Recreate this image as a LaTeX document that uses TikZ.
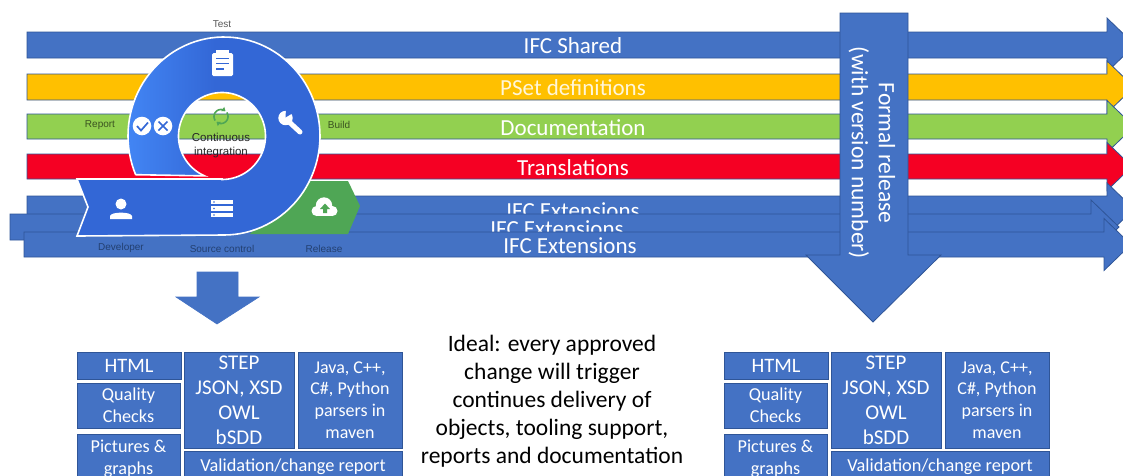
\documentclass[tikz,border=0pt]{standalone}
\usepackage{fontspec}
\setmainfont{Carlito}
\newfontfamily\uifont{Liberation Sans}
\usetikzlibrary{arrows.meta}
\definecolor{ppblue}{HTML}{4472C4}
\definecolor{ppedge}{HTML}{2F5597}
\definecolor{ppyellow}{HTML}{FFC000}
\definecolor{ppgreen}{HTML}{92D050}
\definecolor{ppred}{HTML}{F50023}
\definecolor{gblue}{HTML}{4285F4}
\definecolor{gdark}{HTML}{3367D6}
\definecolor{grelease}{HTML}{4FA655}
\newcommand{\flowbar}[6]{% x0, ytop, ybottom, headx, half head, colour
  \draw[barline, fill=#6] (#1,#2) -- (#4,#2) -- (#4,{(#2+#3)/2-#5}) -- ({#4+#5+1},{(#2+#3)/2}) -- (#4,{(#2+#3)/2+#5}) -- (#4,#3) -- (#1,#3) -- cycle;}
\newcommand{\boxgroup}[2]{% x shift, name prefix
  \begin{scope}[xshift=#1pt]
  \node[outbox, minimum width=104pt, minimum height=27pt] (#2html) at (129,365.5) {HTML};
  \node[outbox, minimum width=103pt, minimum height=45pt, font=\fontsize{18.2}{22}\selectfont] (#2qual) at (128.5,405.5) {Quality\\Checks};
  \node[outbox, minimum width=103pt, minimum height=48pt, font=\fontsize{18.2}{22}\selectfont, anchor=north] (#2pict) at (128.5,434) {Pictures \&\\graphs};
  \node[outbox, minimum width=110pt, minimum height=96pt, font=\fontsize{21}{25}\selectfont] (#2step) at (239,400) {STEP\\JSON, XSD\\OWL\\bSDD};
  \node[outbox, minimum width=104pt, minimum height=96pt, font=\fontsize{18}{21.8}\selectfont] (#2java) at (350,400) {Java, C++,\\C\#, Python\\parsers in\\maven};
  \node[outbox, minimum width=218pt, minimum height=30pt, font=\fontsize{18.3}{22}\selectfont, anchor=north] (#2val) at (293,451) {\raisebox{3pt}{Validation/change report}};
  \end{scope}}
\tikzset{
  barline/.style={draw=ppedge, line width=.8pt},
  bartext/.style={text=white, font=\fontsize{23}{26}\selectfont, inner sep=0pt},
  outbox/.style={draw=ppedge, line width=.6pt, fill=ppblue, text=white, align=center, inner sep=0pt, font=\fontsize{20.5}{24}\selectfont},
  uilabel/.style={inner sep=0pt, font=\uifont\fontsize{10}{12}\selectfont},
  ribbonedge/.style={draw=white, line width=1.6pt, line join=miter},
  icon/.style={fill=white, draw=none},
}
\begin{document}
\begin{tikzpicture}[x=1pt,y=-1pt]
\useasboundingbox (0,0) rectangle (1123,475);
\clip (0,0) rectangle (1123,475);
\fill[white] (0,0) rectangle (1123,475);
% flow bars
\flowbar{27}{32}{58}{1107}{27}{ppblue}
\node[bartext] (shared) at (573,45.5) {IFC Shared};
\flowbar{27}{74}{100}{1107}{26}{ppyellow}
\node[bartext, text=white!85!ppyellow] (pset) at (573,87.5) {PSet definitions};
\flowbar{27}{114}{139}{1107}{26}{ppgreen}
\node[bartext] (doc) at (573,127.5) {Documentation};
\flowbar{27}{154}{179}{1107}{24}{ppred}
\node[bartext] (trans) at (573,167.5) {Translations};
\flowbar{27}{196}{222}{1107}{26}{ppblue}
\node[bartext] (extA) at (573,210.5) {IFC Extensions};
\flowbar{10}{214}{240}{1091}{27}{ppblue}
\node[bartext] (extB) at (557,228.5) {IFC Extensions};
\flowbar{24}{232}{257}{1104}{26}{ppblue}
\node[bartext] (extC) at (570,245.5) {IFC Extensions};
% formal release arrow
\draw[barline, fill=ppblue] (840,13) -- (908,13) -- (908,255) -- (941,255) -- (873,322) -- (806,255) -- (840,255) -- cycle;
\node[text=white, align=center, rotate=-90, inner sep=0pt, font=\fontsize{23.5}{27}\selectfont] (formal) at (872,153) {Formal release\\(with version number)};
% small arrow
\draw[draw=ppblue, line width=.6pt, fill=ppblue] (197,272) -- (238,272) -- (238,297) -- (259,297) -- (217,324) -- (176,297) -- (197,297) -- cycle;
% release tag
\fill[grelease] (300,181) -- (348,181) -- (360,206) -- (348,234) -- (250,234) -- cycle;
% ribbon
\def\ribbonpath{(77,179) -- (222,179) -- plot[domain=90:-246.5,samples=90] ({222+43.5*cos(\x)},{136+43.5*sin(\x)}) -- plot[domain=157:450,samples=90] ({224+96*cos(\x)},{136+99*sin(\x)}) -- (77,236) -- (88,207) -- cycle}
\fill[gdark] \ribbonpath;
\begin{scope}
  \clip \ribbonpath;
  \shade[left color=gblue, right color=gdark] (128,30) rectangle (215,177);
\end{scope}
\draw[ribbonedge] \ribbonpath;
% clipboard icon
\fill[icon, rounded corners=1.5pt] (212,53) rectangle (233,76);
\fill[icon] (216,50) rectangle (229,55);
\foreach \yy/\xe in {58.5/229,63.5/229,69/224} \draw[gdark, line width=1.5pt] (216,\yy) -- (\xe,\yy);
% check and cross
\fill[icon] (142,126) circle (9.3);
\fill[icon] (163,126) circle (9.3);
\draw[gdark, line width=1.7pt] (137,126) -- (141,130.5) -- (148,122.5);
\draw[gdark, line width=1.7pt] (158.5,121.5) -- (167.5,130.5) (167.5,121.5) -- (158.5,130.5);
% wrench
\draw[white, line width=5pt, line cap=round] (287,120) -- (300,132);
\fill[icon] (285.5,118) circle (7.2);
\fill[gdark] (285.5,117.5) -- (286,109) -- (294.5,112) -- cycle;
% person
\fill[icon] (121,204) circle (5.5);
\fill[icon] (110,219) -- (110,216) .. controls (111,211.5) and (131,211.5) .. (132,216) -- (132,219) -- cycle;
% server
\foreach \yy in {199.5,206,212.5} {
  \fill[icon] (211,\yy) rectangle (233,{\yy+4.8});
  \fill[gdark] (214,{\yy+2.4}) circle (.9);
}
% cloud
\fill[icon] (324,205.5) circle (8.2);
\fill[icon] (316.5,211) circle (5);
\fill[icon] (332.5,211) circle (5);
\fill[icon] (316.5,209) rectangle (332.5,216);
\fill[grelease] (325,203.5) -- (330,209) -- (327,209) -- (327,213) -- (323,213) -- (323,209) -- (320,209) -- cycle;
% sync icon
\draw[grelease, line width=1.6pt, -{Triangle[length=3.5pt,width=5pt]}] plot[domain=-215:-50,samples=24] ({221+7*cos(\x)},{116.5+7*sin(\x)});
\draw[grelease, line width=1.6pt, -{Triangle[length=3.5pt,width=5pt]}] plot[domain=-35:130,samples=24] ({221+7*cos(\x)},{116.5+7*sin(\x)});
% labels
\node[uilabel, font=\uifont\fontsize{11.5}{14}\selectfont, align=center, text=black!85] (ci) at (221,146) {Continuous\\integration};
\node[uilabel, text=black!65] (test) at (222,24) {Test};
\node[uilabel, text=black!60!ppgreen] (report) at (100,125) {Report};
\node[uilabel, text=black!60!ppgreen] (build) at (339,125) {Build};
\node[uilabel, text=ppedge!75!black] (dev) at (121,248) {Developer};
\node[uilabel, text=ppedge!75!black] (src) at (222,248.5) {Source control};
\node[uilabel, text=ppedge!75!black] (rel) at (324,248.5) {Release};
% output groups
\boxgroup{0}{a}
\boxgroup{647}{b}
% central text
\node[align=center, inner sep=0pt, text=black, font=\fontsize{23.5}{28}\selectfont] (ideal) at (552,401.5) {Ideal: every approved\\change will trigger\\continues delivery of\\objects, tooling support,\\reports and documentation};
\end{tikzpicture}
\end{document}
